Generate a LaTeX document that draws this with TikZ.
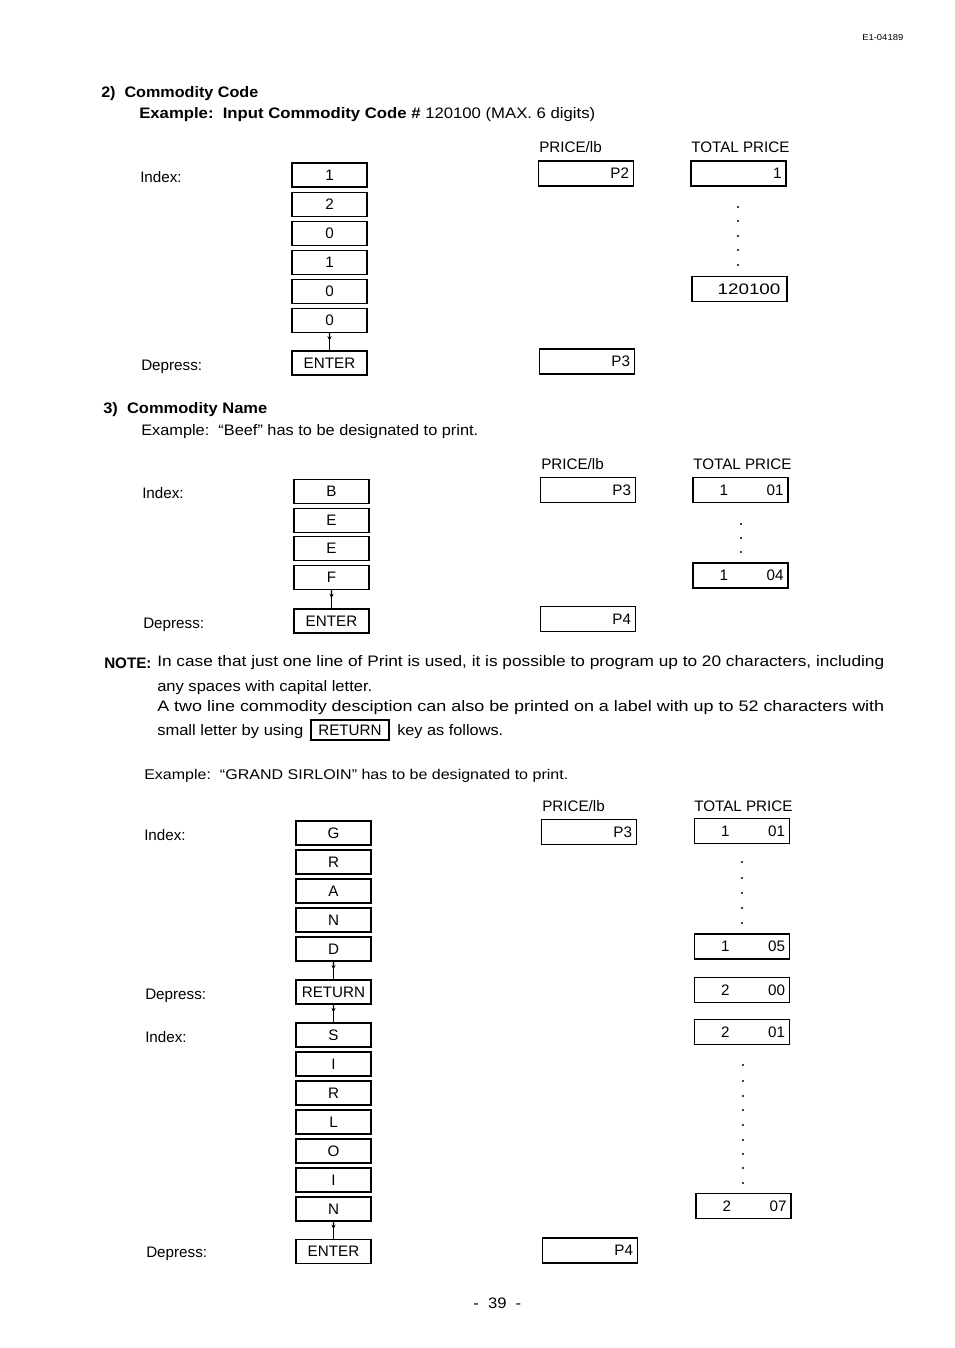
\documentclass[tikz,border=0pt]{standalone}
\usepackage{fontspec}
\usepackage{graphicx}
\setmainfont{Liberation Sans}
\usetikzlibrary{arrows.meta,calc}
\newdimen\pxu \pxu=0.75pt
\newcommand\fs{\fontsize{11.4pt}{14pt}\selectfont}
\newcommand\fsb{\fontsize{10.6pt}{13pt}\selectfont}
\newcommand\fst{\fontsize{6.5pt}{8pt}\selectfont}
\newsavebox\fitbox
\newcommand\fitline[2]{\sbox\fitbox{#2}\edef\fitw{\the\wd\fitbox}\pgfmathsetmacro\fitr{#1/\fitw}\scalebox{\fitr}[1]{\usebox\fitbox}}
\tikzset{
  keybox/.style={draw, line width=0.9pt, minimum width=75\pxu, minimum height=24\pxu, inner sep=0pt, font=\fs},
  dispbox/.style={draw, line width=1pt, minimum width=95\pxu, minimum height=25\pxu, inner sep=0pt, font=\fs},
  txt/.style={anchor=base west, inner sep=0pt, font=\fs},
  link/.style={line width=0.8pt},
  linktip/.style={line width=0.8pt, -{Stealth[length=3.5pt,width=3pt]}},
  dot/.style={fill=black, draw=none, circle, inner sep=0pt, minimum size=2.2\pxu}
}
\newcommand\disp[1]{\makebox[86\pxu][r]{#1}}
\newcommand\dtwo[2]{\makebox[86\pxu]{\hspace*{22\pxu}#1\hfill #2}}
\newcommand\keylink[2]{\draw[link] (#1.south) -- (#2.north);
  \draw[linktip] (#1.south) -- ($(#1.south)!0.45!(#2.north)$);}
\begin{document}
\begin{tikzpicture}[x=0.75pt,y=-0.75pt]
\useasboundingbox[fill=white] (0,0) rectangle (954,1348);

% header
\node[txt,font=\fst] (code) at (862,41) {\fitline{41\pxu}{E1-04189}};

% ===== Section 2 =====
\node[txt] (h2) at (101,98) {\fitline{157\pxu}{\bfseries 2)\ \ Commodity Code}};
\node[txt] (e2) at (139,119) {\fitline{456\pxu}{\bfseries Example:\ \ Input Commodity Code \#\ \mdseries 120100 (MAX. 6 digits)}};
\node[txt] (pl2) at (539,153) {PRICE/lb};
\node[txt] (tp2) at (691,153) {TOTAL PRICE};
\node[txt] (ix2) at (140,183) {Index:};
\node[txt] (dp2) at (141,370) {Depress:};

\node[keybox] (a1) at (329.5,175) {1};
\node[keybox] (a2) at (329.5,204.5) {2};
\node[keybox] (a3) at (329.5,233.5) {0};
\node[keybox] (a4) at (329.5,262.5) {1};
\node[keybox] (a5) at (329.5,291.5) {0};
\node[keybox] (a6) at (329.5,320.5) {0};
\node[keybox] (a7) at (329.5,363) {ENTER};
\keylink{a6}{a7}

\node[dispbox] (ap1) at (586,173.5) {\disp{P2}};
\node[dispbox] (ap2) at (587,361.5) {\disp{P3}};
\node[dispbox] (at1) at (738.5,173.5) {\disp{1}};
\node[dispbox] (at2) at (739.5,289) {\makebox[82\pxu][r]{\fitline{63\pxu}{120100}}};
\foreach \yy [count=\i] in {207,221,236,250,265}
  \node[dot] (ad\i) at (738,\yy) {};

% ===== Section 3 =====
\node[txt] (h3) at (103,413) {\fitline{164\pxu}{\bfseries 3)\ \ Commodity Name}};
\node[txt] (e3) at (141,435) {\fitline{337\pxu}{Example:\ \ ``Beef'' has to be designated to print.}};
\node[txt] (pl3) at (541,469) {PRICE/lb};
\node[txt] (tp3) at (693,469) {TOTAL PRICE};
\node[txt] (ix3) at (142,498) {Index:};
\node[txt] (dp3) at (143,628) {Depress:};

\node[keybox] (b1) at (331.5,491.5) {B};
\node[keybox] (b2) at (331.5,520.5) {E};
\node[keybox] (b3) at (331.5,548.5) {E};
\node[keybox] (b4) at (331.5,577.5) {F};
\node[keybox] (b5) at (331.5,621) {ENTER};
\keylink{b4}{b5}

\node[dispbox] (bp1) at (588,490) {\disp{P3}};
\node[dispbox] (bp2) at (588,619) {\disp{P4}};
\node[dispbox] (bt1) at (740.5,490) {\dtwo{1}{01}};
\node[dispbox] (bt2) at (740.5,575.5) {\dtwo{1}{04}};
\foreach \yy [count=\i] in {524,538,552}
  \node[dot] (bd\i) at (741,\yy) {};

% ===== NOTE =====
\node[txt] (nt) at (104,668) {\bfseries NOTE:};
\node[txt] (n1) at (157,666) {\fitline{727\pxu}{In case that just one line of Print is used, it is possible to program up to 20 characters, including}};
\node[txt] (n2) at (157,691) {\fitline{215\pxu}{any spaces with capital letter.}};
\node[txt] (n3) at (157,711) {\fitline{727\pxu}{A two line commodity desciption can also be printed on a label with up to 52 characters with}};
\node[txt] (n4a) at (157,735) {\fitline{146\pxu}{small letter by using}};
\node[draw, line width=0.8pt, minimum width=78\pxu, minimum height=20\pxu, inner sep=0pt, font=\fs] (ret) at (350,730) {RETURN};
\node[txt] (n4b) at (397,735) {\fitline{106\pxu}{key as follows.}};
\node[txt] (e4) at (144,779) {\fitline{424\pxu}{\fsb Example:\ \ ``GRAND SIRLOIN'' has to be designated to print.}};

% ===== Section 4 =====
\node[txt] (pl4) at (542,811) {PRICE/lb};
\node[txt] (tp4) at (694,811) {TOTAL PRICE};
\node[txt] (ix4) at (144,840) {Index:};
\node[txt] (dp4) at (145,999) {Depress:};
\node[txt] (ix5) at (145,1042) {Index:};
\node[txt] (dp5) at (146,1257) {Depress:};

\node[keybox] (c1) at (333.5,833) {G};
\node[keybox] (c2) at (333.5,862) {R};
\node[keybox] (c3) at (333.5,891) {A};
\node[keybox] (c4) at (333.5,920) {N};
\node[keybox] (c5) at (333.5,949) {D};
\node[keybox] (c6) at (333.5,992) {RETURN};
\node[keybox] (c7) at (333.5,1035) {S};
\node[keybox] (c8) at (333.5,1064) {I};
\node[keybox] (c9) at (333.5,1093) {R};
\node[keybox] (c10) at (333.5,1122) {L};
\node[keybox] (c11) at (333.5,1151) {O};
\node[keybox] (c12) at (333.5,1180) {I};
\node[keybox] (c13) at (333.5,1209) {N};
\node[keybox] (c14) at (333.5,1251.5) {ENTER};
\keylink{c5}{c6}
\keylink{c6}{c7}
\keylink{c13}{c14}

\node[dispbox] (cp1) at (589,832) {\disp{P3}};
\node[dispbox] (cp2) at (590,1250.5) {\disp{P4}};
\node[dispbox] (ct1) at (742,831) {\dtwo{1}{01}};
\node[dispbox] (ct2) at (742,946.5) {\dtwo{1}{05}};
\node[dispbox] (ct3) at (742,990) {\dtwo{2}{00}};
\node[dispbox] (ct4) at (742,1032) {\dtwo{2}{01}};
\node[dispbox] (ct5) at (743.5,1206) {\dtwo{2}{07}};
\foreach \yy [count=\i] in {862,878,893,908,923}
  \node[dot] (cd\i) at (742,\yy) {};
\foreach \yy [count=\i] in {1065,1081,1096,1110,1125,1140,1154,1168,1183}
  \node[dot] (ce\i) at (743,\yy) {};

% page number
\node[txt] (pg) at (473,1308) {\fitline{48\pxu}{-\ \ 39\ \ -}};
\end{tikzpicture}
\end{document}
